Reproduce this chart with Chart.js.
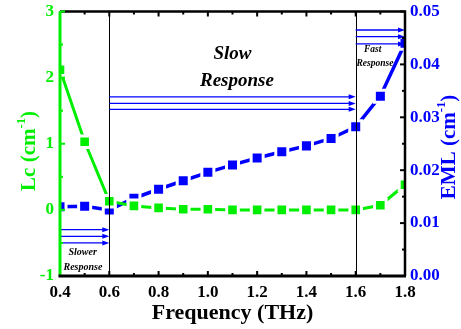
<!DOCTYPE html>
<html>
<head>
<meta charset="utf-8">
<script src="https://cdn.jsdelivr.net/npm/chart.js@4/dist/chart.umd.min.js"></script>
<style>
  html, body { margin: 0; padding: 0; background: #fff; }
  #wrap { width: 461px; height: 329px; }
</style>
</head>
<body>
<div id="wrap"><canvas id="grafico"></canvas></div>
<script>
// datos
var frecuencia = [0.4, 0.5, 0.6, 0.7, 0.8, 0.9, 1.0, 1.1, 1.2, 1.3, 1.4, 1.5, 1.6, 1.7, 1.8];
var lc = [2.12, 1.03, 0.13, 0.06, 0.03, 0.01, 0.01, 0.0, 0.0, 0.0, 0.0, 0.0, 0.0, 0.07, 0.38];
var eml = [0.0131, 0.0132, 0.0125, 0.0147, 0.0164, 0.018, 0.0196, 0.021, 0.0223, 0.0235, 0.0246, 0.026, 0.0282, 0.034, 0.044];
var xTicks = [0.4, 0.6, 0.8, 1.0, 1.2, 1.4, 1.6, 1.8];
var lcTicks = [-1, 0, 1, 2, 3];
var emlTicks = [0, 0.01, 0.02, 0.03, 0.04, 0.05];
var limites = [0.6, 1.6];

var VERDE = '#00ee00';
var AZUL = '#0000ff';
var SERIF = "'Liberation Serif', 'Times New Roman', serif";

function puntos(ys) {
  return frecuencia.map(function (f, i) { return { x: f, y: ys[i] }; });
}

// titulo con superindice
function textoSup(ctx, partes, x, y, rot, size, color) {
  ctx.save();
  ctx.translate(x, y);
  ctx.rotate(rot);
  ctx.fillStyle = color;
  ctx.textBaseline = 'middle';
  var total = 0;
  partes.forEach(function (p) {
    ctx.font = 'bold ' + (p.sup ? size * 0.6 : size) + 'px ' + SERIF;
    p.w = ctx.measureText(p.t).width;
    total += p.w;
  });
  var cx = -total / 2;
  partes.forEach(function (p) {
    ctx.font = 'bold ' + (p.sup ? size * 0.6 : size) + 'px ' + SERIF;
    ctx.textAlign = 'left';
    ctx.fillText(p.t, cx, p.sup ? -size * 0.38 : 0);
    cx += p.w;
  });
  ctx.restore();
}

function flecha(ctx, x1, x2, y) {
  ctx.beginPath();
  ctx.moveTo(x1, y);
  ctx.lineTo(x2 - 5, y);
  ctx.stroke();
  ctx.beginPath();
  ctx.moveTo(x2, y);
  ctx.lineTo(x2 - 7, y - 2.5);
  ctx.lineTo(x2 - 7, y + 2.5);
  ctx.closePath();
  ctx.fill();
}

var extras = {
  id: 'extras',
  afterDatasetsDraw: function (chart) {
    var ctx = chart.ctx;
    var a = chart.chartArea;
    var sx = chart.scales.x, sy = chart.scales.y, sy2 = chart.scales.y2;
    var X = function (v) { return sx.getPixelForValue(v); };
    var Y = function (v) { return sy.getPixelForValue(v); };

    ctx.save();
    // lineas verticales
    ctx.strokeStyle = '#000';
    ctx.lineWidth = 1;
    limites.forEach(function (v) {
      ctx.beginPath();
      ctx.moveTo(Math.round(X(v)) + 0.5, a.top);
      ctx.lineTo(Math.round(X(v)) + 0.5, a.bottom);
      ctx.stroke();
    });

    // flechas
    ctx.strokeStyle = AZUL;
    ctx.fillStyle = AZUL;
    ctx.lineWidth = 1.3;
    [1.71, 1.61, 1.52].forEach(function (v) { flecha(ctx, X(0.6), X(1.6), Y(v)); });
    [-0.3, -0.4, -0.5].forEach(function (v) { flecha(ctx, X(0.4), X(0.6), Y(v)); });
    [2.72, 2.62, 2.51].forEach(function (v) { flecha(ctx, X(1.6), X(1.8), Y(v)); });

    // textos
    ctx.fillStyle = '#000';
    ctx.textAlign = 'center';
    ctx.textBaseline = 'middle';
    ctx.font = 'italic bold 19px ' + SERIF;
    ctx.fillText('Slow', X(1.10), Y(2.36));
    ctx.fillText('Response', X(1.118), Y(1.95));
    ctx.font = 'italic bold 10px ' + SERIF;
    ctx.fillText('Slower', X(0.492), Y(-0.65));
    ctx.fillText('Response', X(0.493), Y(-0.875));
    ctx.font = 'italic bold 9.5px ' + SERIF;
    ctx.fillText('Fast', X(1.669), Y(2.43));
    ctx.fillText('Response', X(1.678), Y(2.22));

    // marco superior y derecho
    ctx.strokeStyle = '#000';
    ctx.lineWidth = 2.5;
    ctx.beginPath();
    ctx.moveTo(a.left, a.top);
    ctx.lineTo(a.right, a.top);
    ctx.lineTo(a.right, a.bottom);
    ctx.stroke();

    // marcas hacia dentro
    ctx.lineWidth = 2;
    for (var i = 4; i <= 18; i++) {
      var px = X(i / 10), l = i % 2 === 0 ? 5 : 3;
      ctx.beginPath();
      ctx.moveTo(px, a.bottom); ctx.lineTo(px, a.bottom - l);
      ctx.moveTo(px, a.top); ctx.lineTo(px, a.top + l);
      ctx.stroke();
    }
    for (var j = 0; j <= 10; j++) {
      var py = sy2.getPixelForValue(j * 0.005), l2 = j % 2 === 0 ? 5 : 3;
      ctx.beginPath();
      ctx.moveTo(a.right, py); ctx.lineTo(a.right - l2, py);
      ctx.stroke();
    }
    ctx.strokeStyle = VERDE;
    for (var k = 0; k <= 8; k++) {
      var py2 = Y(-1 + k * 0.5), l3 = k % 2 === 0 ? 5 : 3;
      ctx.beginPath();
      ctx.moveTo(a.left, py2); ctx.lineTo(a.left + l3, py2);
      ctx.stroke();
    }

    // ejes izquierdo e inferior
    ctx.lineWidth = 3;
    ctx.strokeStyle = VERDE;
    ctx.beginPath();
    ctx.moveTo(a.left, a.top); ctx.lineTo(a.left, a.bottom);
    ctx.stroke();
    ctx.strokeStyle = '#000';
    ctx.beginPath();
    ctx.moveTo(a.left - 1.5, a.bottom); ctx.lineTo(a.right + 1, a.bottom);
    ctx.stroke();
    ctx.restore();

    // titulos de ejes
    textoSup(ctx, [{ t: 'Frequency (THz)' }], (a.left + a.right) / 2, 313, 0, 22, '#000');
    textoSup(ctx, [{ t: 'Lc (cm' }, { t: '-1', sup: true }, { t: ')' }], 30, 151, -Math.PI / 2, 21, VERDE);
    textoSup(ctx, [{ t: 'EML (cm' }, { t: '-1', sup: true }, { t: ')' }], 450, 147, -Math.PI / 2, 21, AZUL);
  }
};

var fuenteX = { family: SERIF, weight: 'bold', size: 17 };
// lineHeight corto para que las etiquetas verticales no empujen el area
var fuenteY = { family: SERIF, weight: 'bold', size: 17, lineHeight: 0.5 };

var ctxG = document.getElementById('grafico').getContext('2d');
new Chart(ctxG, {
  type: 'line',
  data: {
    datasets: [{
      label: 'Lc',
      data: puntos(lc),
      yAxisID: 'y',
      borderColor: VERDE,
      borderWidth: 3,
      pointStyle: 'rect',
      pointRadius: 8.2,
      pointBackgroundColor: VERDE,
      pointBorderColor: '#fff',
      pointBorderWidth: 3
    }, {
      label: 'EML',
      data: puntos(eml),
      yAxisID: 'y2',
      borderColor: AZUL,
      borderWidth: 3.5,
      pointStyle: 'rect',
      pointRadius: 8.5,
      pointBackgroundColor: AZUL,
      pointBorderColor: '#fff',
      pointBorderWidth: 3
    }]
  },
  options: {
    responsive: true,
    maintainAspectRatio: false,
    animation: false,
    events: [],
    layout: { padding: { top: 11, left: 0, right: 0, bottom: 0 } },
    plugins: { legend: { display: false }, tooltip: { enabled: false } },
    scales: {
      x: {
        type: 'linear',
        min: 0.4, max: 1.8,
        afterBuildTicks: function (s) { s.ticks = xTicks.map(function (v) { return { value: v }; }); },
        afterFit: function (s) { s.height = 53; },
        ticks: { color: '#000', font: fuenteX, padding: 6, maxRotation: 0,
          callback: function (v) { return Number(v).toFixed(1); } },
        grid: { display: false, drawTicks: false },
        border: { display: false }
      },
      y: {
        position: 'left',
        min: -1, max: 3,
        afterBuildTicks: function (s) { s.ticks = lcTicks.map(function (v) { return { value: v }; }); },
        afterFit: function (s) { s.width = 60; },
        ticks: { color: VERDE, font: fuenteY, padding: 6 },
        grid: { display: false, drawTicks: false },
        border: { display: false }
      },
      y2: {
        position: 'right',
        min: 0, max: 0.05,
        afterBuildTicks: function (s) { s.ticks = emlTicks.map(function (v) { return { value: v }; }); },
        afterFit: function (s) { s.width = 56; },
        ticks: { color: AZUL, font: fuenteY, padding: 5,
          callback: function (v) { return Number(v).toFixed(2); } },
        grid: { display: false, drawTicks: false },
        border: { display: false }
      }
    }
  },
  plugins: [extras]
});
</script>
</body>
</html>
